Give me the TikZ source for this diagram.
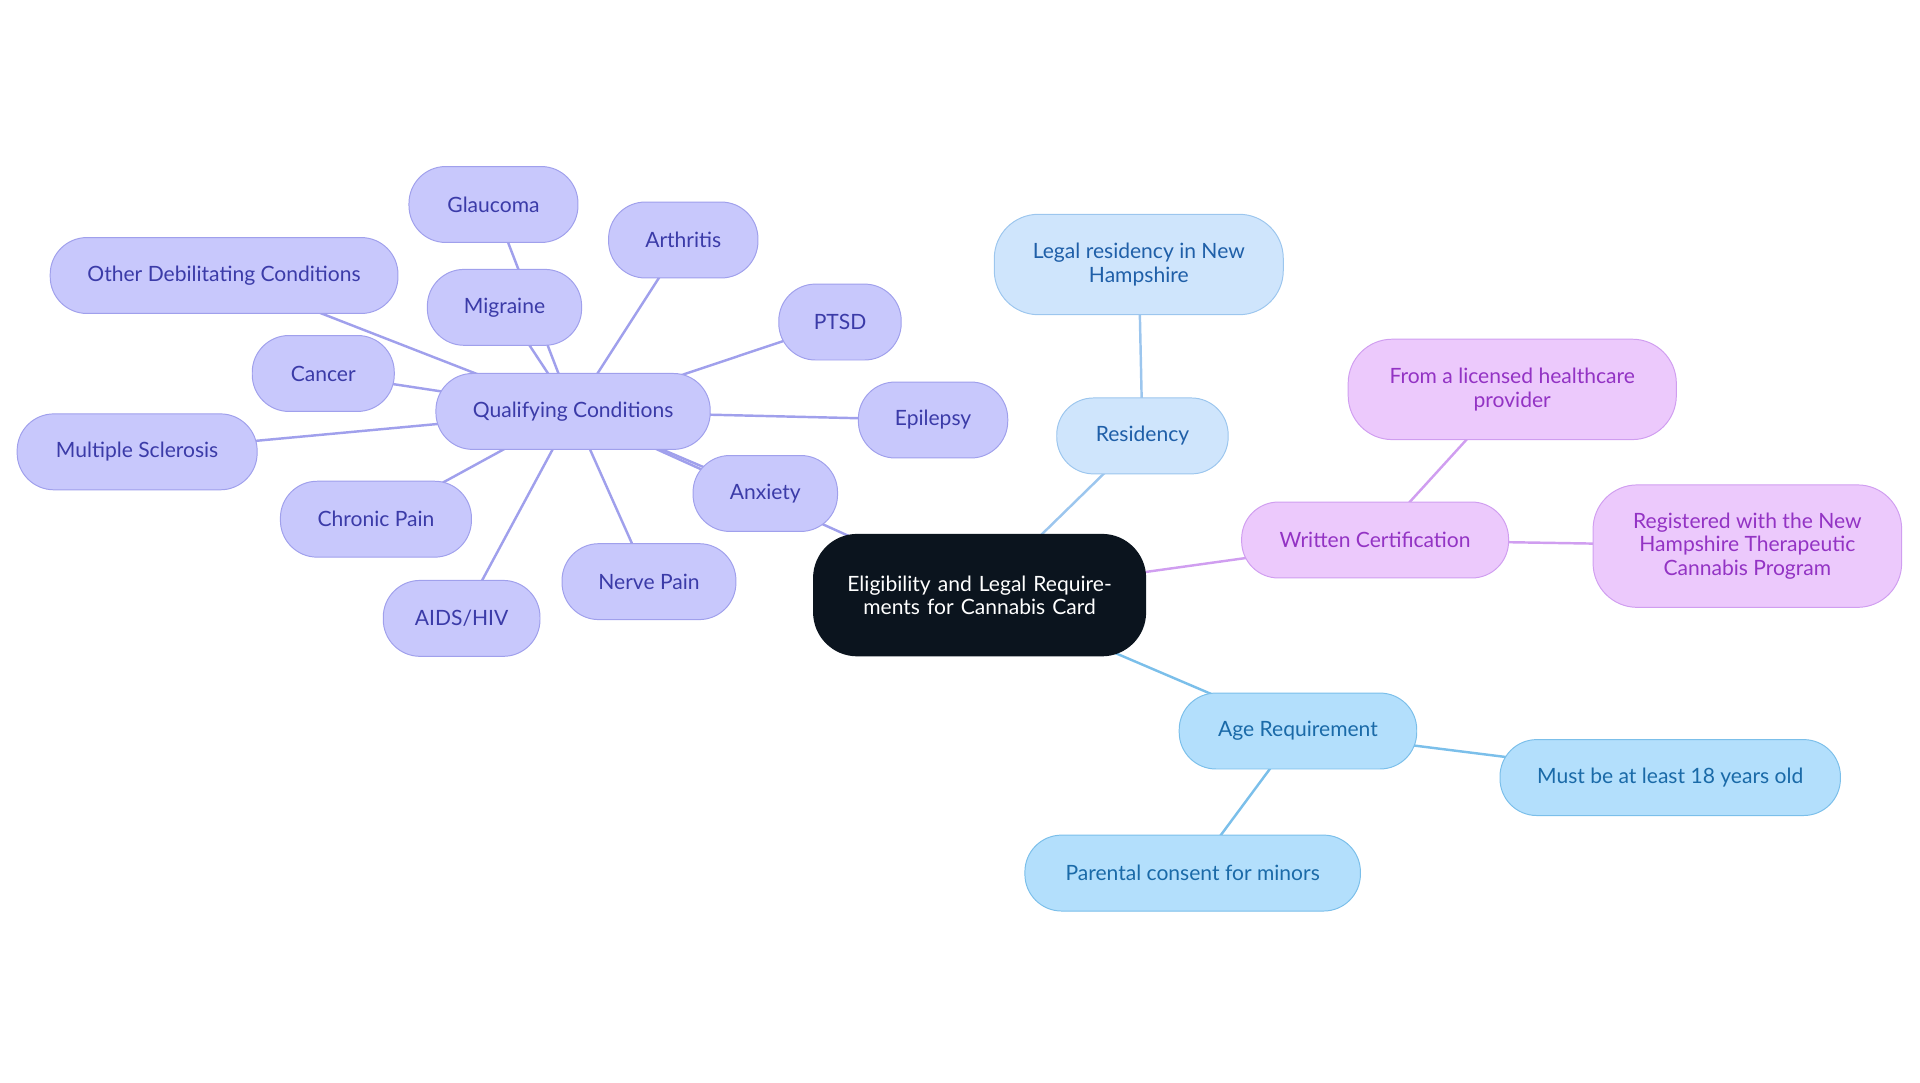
\documentclass[tikz,border=0pt]{standalone}
\usepackage{fontspec}
\setmainfont{Lato}
\usetikzlibrary{backgrounds}
\definecolor{qf}{HTML}{C8C8FC}\definecolor{qd}{HTML}{A0A0EC}\definecolor{qt}{HTML}{3B3BA8}
\definecolor{rf}{HTML}{CFE5FC}\definecolor{rd}{HTML}{9CC6EE}\definecolor{rt}{HTML}{1F5FA8}
\definecolor{wf}{HTML}{ECC9FC}\definecolor{wd}{HTML}{D09EF0}\definecolor{wt}{HTML}{9333C4}
\definecolor{af}{HTML}{B3DFFC}\definecolor{ad}{HTML}{7BBFEA}\definecolor{at}{HTML}{1A6AA8}
\definecolor{rootf}{HTML}{0B141E}
\begin{document}
\begin{tikzpicture}[x=0.5pt,y=-0.5pt,
 base/.style={rounded corners=15pt,minimum height=31pt,align=center,font=\fontsize{8.6}{9.6}\selectfont,line width=0.4pt},
 q/.style={base,fill=qf,draw=qd,text=qt},
 r/.style={base,fill=rf,draw=rd,text=rt},
 w/.style={base,fill=wf,draw=wd,text=wt},
 a/.style={base,fill=af,draw=ad,text=at},
 qe/.style={draw=qd,line width=1pt},
 re/.style={draw=rd,line width=1pt},
 we/.style={draw=wd,line width=1pt},
 ae/.style={draw=ad,line width=1pt}]
\useasboundingbox (0,0) rectangle (1568,884);
\node[base,fill=rootf,text=white,minimum width=136pt,minimum height=50pt,rounded corners=18pt,text width=118pt] (root) at (800,486) {Eligibility and Legal Requirements for Cannabis Card};
\node[q,minimum width=112pt] (qc) at (468,336) {Qualifying Conditions};
\node[q,minimum width=69pt] (gl) at (403,167) {Glaucoma};
\node[q,minimum width=61pt] (ar) at (558,196) {Arthritis};
\node[q,minimum width=142pt] (ot) at (183,225) {Other Debilitating Conditions};
\node[q,minimum width=63pt] (mi) at (412,251) {Migraine};
\node[q,minimum width=50pt] (pt) at (686,263) {PTSD};
\node[q,minimum width=58pt] (ca) at (264,305) {Cancer};
\node[q,minimum width=61pt] (ep) at (762,343) {Epilepsy};
\node[q,minimum width=98pt] (ms) at (112,369) {Multiple Sclerosis};
\node[q,minimum width=59pt] (an) at (625,403) {Anxiety};
\node[q,minimum width=78pt] (ch) at (307,424) {Chronic Pain};
\node[q,minimum width=71pt] (ne) at (530,475) {Nerve Pain};
\node[q,minimum width=64pt] (ai) at (377,505) {AIDS/HIV};
\node[r,minimum width=70pt] (re) at (933,356) {Residency};
\node[r,minimum width=118pt,minimum height=41pt,rounded corners=18pt] (le) at (930,216) {Legal residency in New\\Hampshire};
\node[w,minimum width=109pt] (wc) at (1123,441) {Written Certification};
\node[w,minimum width=134pt,minimum height=41pt,rounded corners=18pt] (fl) at (1235,318) {From a licensed healthcare\\provider};
\node[w,minimum width=126pt,minimum height=50pt,rounded corners=18pt] (rg) at (1427,446) {Registered with the New\\Hampshire Therapeutic\\Cannabis Program};
\node[a,minimum width=97pt] (ag) at (1060,597) {Age Requirement};
\node[a,minimum width=139pt] (mb) at (1364,635) {Must be at least 18 years old};
\node[a,minimum width=137pt] (pc) at (974,713) {Parental consent for minors};
\begin{scope}[on background layer]
\draw[qe] (root.center) -- (qc.center);
\foreach \n in {gl,ar,ot,mi,pt,ca,ep,ms,an,ch,ne,ai} \draw[qe] (qc.center) -- (\n.center);
\draw[re] (root.center) -- (re.center) (re.center) -- (le.center);
\draw[we] (root.center) -- (wc.center) (wc.center) -- (fl.center) (wc.center) -- (rg.center);
\draw[ae] (root.center) -- (ag.center) (ag.center) -- (mb.center) (ag.center) -- (pc.center);
\end{scope}
\end{tikzpicture}
\end{document}
